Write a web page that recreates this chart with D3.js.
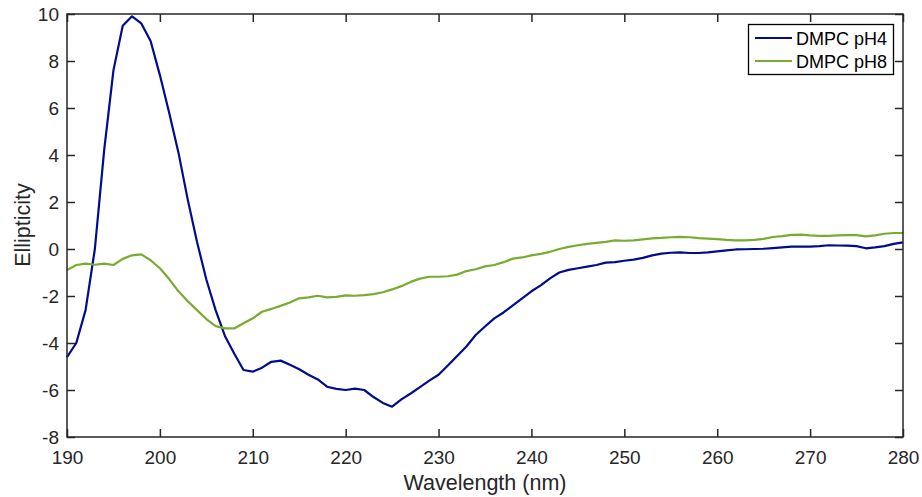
<!DOCTYPE html>
<html><head><meta charset="utf-8">
<script src="https://cdn.jsdelivr.net/npm/d3@7"></script>
<style>body{margin:0;background:#fff;} svg{display:block;font-family:"Liberation Sans",Arial,sans-serif;}</style>
</head><body>
<svg id="c" width="922" height="497"></svg>
<script>
const wavelength = d3.range(190, 281);
const seriesNames = ["DMPC pH4", "DMPC pH8"];
const pH4 = [-4.6,-4.0,-2.6,0.0,4.2,7.6,9.5,9.9,9.6,8.85,
 7.4,5.8,4.1,2.1,0.3,-1.3,-2.6,-3.7,-4.45,-5.15,
 -5.22,-5.05,-4.8,-4.75,-4.93,-5.12,-5.35,-5.55,-5.86,-5.95,
 -6.0,-5.94,-6.0,-6.3,-6.55,-6.71,-6.4,-6.15,-5.88,-5.6,
 -5.35,-4.96,-4.55,-4.15,-3.66,-3.3,-2.95,-2.7,-2.4,-2.1,
 -1.8,-1.55,-1.25,-1.0,-0.89,-0.82,-0.75,-0.68,-0.58,-0.56,
 -0.5,-0.45,-0.38,-0.27,-0.2,-0.16,-0.14,-0.17,-0.17,-0.14,
 -0.1,-0.06,-0.02,-0.01,0.0,0.01,0.04,0.07,0.1,0.1,
 0.1,0.12,0.16,0.15,0.14,0.12,0.03,0.07,0.12,0.22,0.28];
const pH8 = [-0.9,-0.68,-0.62,-0.67,-0.62,-0.68,-0.42,-0.27,-0.23,-0.48,
 -0.82,-1.28,-1.8,-2.22,-2.6,-2.98,-3.28,-3.38,-3.38,-3.16,
 -2.95,-2.67,-2.55,-2.42,-2.28,-2.1,-2.06,-1.99,-2.06,-2.04,
 -1.97,-1.99,-1.96,-1.92,-1.84,-1.72,-1.58,-1.4,-1.26,-1.18,
 -1.18,-1.16,-1.09,-0.94,-0.86,-0.74,-0.68,-0.56,-0.41,-0.36,
 -0.27,-0.21,-0.12,0.0,0.09,0.16,0.22,0.26,0.3,0.37,
 0.35,0.37,0.41,0.45,0.47,0.5,0.52,0.5,0.46,0.44,
 0.42,0.39,0.37,0.37,0.39,0.43,0.51,0.55,0.6,0.61,
 0.58,0.56,0.56,0.58,0.59,0.59,0.54,0.58,0.65,0.68,0.68];
const xTicks = [190,200,210,220,230,240,250,260,270,280];
const yTicks = [-8,-6,-4,-2,0,2,4,6,8,10];
const colors = ["#000c8c", "#77ac30"];

const svg = d3.select("#c");
const L = 67, R = 903, T = 14, B = 437;
const x = d3.scaleLinear().domain([190, 280]).range([L, R]);
const y = d3.scaleLinear().domain([-8, 10]).range([B, T]);
const axCol = "#262626";
const fmt = d => String(d);

const line = d3.line().x((d, i) => x(wavelength[i])).y(d => y(d));
[pH4, pH8].forEach((s, k) => {
  svg.append("path").datum(s).attr("d", line).attr("fill", "none")
    .attr("stroke", colors[k]).attr("stroke-width", 2.2).attr("stroke-linejoin", "round");
});

function styleAxis(g) {
  g.select(".domain").remove();
  g.selectAll("line").attr("stroke", axCol).attr("stroke-width", 1.5);
  g.selectAll("text").attr("fill", axCol).style("font-size", "19px");
}
const tl = 8;
svg.append("g").attr("transform", `translate(0,${B})`)
  .call(d3.axisBottom(x).tickValues(xTicks).tickSize(-tl).tickPadding(13.5).tickFormat(fmt))
  .call(styleAxis);
svg.append("g").attr("transform", `translate(0,${T})`)
  .call(d3.axisTop(x).tickValues(xTicks).tickSize(-tl).tickFormat(""))
  .call(styleAxis);
svg.append("g").attr("transform", `translate(${L},0)`)
  .call(d3.axisLeft(y).tickValues(yTicks).tickSize(-tl).tickPadding(8).tickFormat(fmt))
  .call(styleAxis);
svg.append("g").attr("transform", `translate(${R},0)`)
  .call(d3.axisRight(y).tickValues(yTicks).tickSize(-tl).tickFormat(""))
  .call(styleAxis);

svg.append("rect").attr("x", L).attr("y", T).attr("width", R - L).attr("height", B - T)
  .attr("fill", "none").attr("stroke", axCol).attr("stroke-width", 1.5);

svg.append("text").attr("x", (L + R) / 2).attr("y", 490).attr("text-anchor", "middle")
  .attr("fill", axCol).style("font-size", "21.5px").text("Wavelength (nm)");
svg.append("text").attr("transform", `translate(30,225) rotate(-90)`).attr("text-anchor", "middle")
  .attr("fill", axCol).style("font-size", "21.5px").text("Ellipticity");

// legend
const lg = svg.append("g");
lg.append("rect").attr("x", 748.5).attr("y", 24.5).attr("width", 145).attr("height", 50)
  .attr("fill", "#fff").attr("stroke", "#000").attr("stroke-width", 1.3);
seriesNames.forEach((n, k) => {
  const yy = 38 + k * 23;
  lg.append("line").attr("x1", 755).attr("x2", 792).attr("y1", yy).attr("y2", yy)
    .attr("stroke", colors[k]).attr("stroke-width", 2.2);
  lg.append("text").attr("x", 796).attr("y", yy + 6.5).attr("fill", "#000")
    .style("font-size", "18px").text(n);
});
</script>
</body></html>
